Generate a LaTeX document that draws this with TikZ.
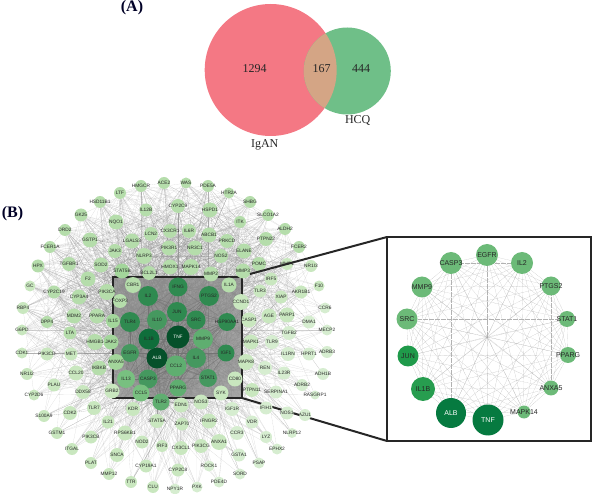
\documentclass[tikz,border=0pt]{standalone}
\usepackage{fontspec}
\setmainfont{Liberation Serif}
\newfontfamily\labsans{Liberation Sans}
\definecolor{vred}{HTML}{F47884}
\definecolor{vgreen}{HTML}{6FBF88}
\definecolor{vmix}{HTML}{D4A585}
\definecolor{h1}{HTML}{05502A}
\definecolor{h2}{HTML}{0F6E3B}
\definecolor{h3}{HTML}{2F8A50}
\definecolor{h4}{HTML}{45985F}
\definecolor{h5}{HTML}{5FAE70}
\definecolor{h6}{HTML}{78C080}
\definecolor{g0}{HTML}{A3D69B}
\definecolor{g1}{HTML}{B5DDAB}
\definecolor{g2}{HTML}{C9E7BF}
\definecolor{g3}{HTML}{D6EDD0}
\definecolor{rdark}{HTML}{067A40}
\definecolor{rmid}{HTML}{1F9A4A}
\definecolor{rlight}{HTML}{6CBA78}
\definecolor{boxfill}{HTML}{A6A6A6}
\definecolor{frame}{HTML}{262626}
\pgfdeclarelayer{bg}
\pgfsetlayers{bg,main}
\tikzset{
  netnode/.style={circle,inner sep=0pt,outer sep=0pt,text=black!85,font=\labsans\fontsize{4.8}{5}\selectfont},
  zoomnode/.style={circle,inner sep=0pt,outer sep=0pt,text=black!85,font=\labsans\fontsize{7}{8}\selectfont},
  netedge/.style={draw=black!45,line width=0.1pt,opacity=0.4},
  hubedge/.style={draw=black!55,line width=0.1pt,opacity=0.5},
  zoomedge/.style={draw=black!30,line width=0.12pt,dash pattern=on 0.8pt off 0.4pt},
  framed/.style={draw=frame,line width=2pt},
  vlabel/.style={font=\fontsize{12}{14}\selectfont,text=black!85,inner sep=0pt},
  panel/.style={font=\bfseries\fontsize{16}{18}\selectfont,text=black!85!blue,inner sep=0pt},
}
\newcount\nodecnt
\newcommand\netnode[6]{%
  \global\advance\nodecnt by 1
  \edef\thisn{n\the\nodecnt}%
  \expandafter\xdef\csname deg\the\nodecnt\endcsname{#6}%
  \node[netnode,fill=#5,minimum size={2*#4 pt}] (\thisn) at (#2,#3) {\makebox[0pt][c]{#1}};}
\newcommand\zoomn[6]{%
  \node[zoomnode,fill=#6,minimum size={2*#5 pt}] (#1) at (#3,#4) {\makebox[0pt][c]{#2}};}
\begin{document}
\begin{tikzpicture}[x=1pt,y=-1pt]
\useasboundingbox (0,0) rectangle (592,494);
% ---- Panel A
\node[panel] (pa) at (132,8) {(A)};
\fill[vred] (270.7,70) circle (66);
\fill[vgreen] (347.3,71) circle (43.5);
\begin{scope}
  \clip (270.7,70) circle (66);
  \fill[vmix] (347.3,71) circle (43.5);
\end{scope}
\node[vlabel] (va) at (254.7,69) {1294};
\node[vlabel] (vb) at (321.7,69) {167};
\node[vlabel] (vc) at (361,69) {444};
\node[vlabel] (vd) at (357.7,121) {HCQ};
\node[vlabel] (ve) at (264.7,145) {IgAN};
% ---- Panel B
\node[panel] (pb) at (12.5,214) {(B)};
\coordinate (boxNW) at (113,277);
\coordinate (boxNE) at (242,277);
\coordinate (boxSW) at (113,398);
\coordinate (boxSE) at (242,398);
\coordinate (bigNW) at (387,237);
\coordinate (bigSE) at (591,441);
\coordinate (bigSW) at (387,441);
\coordinate (upstart) at (250,274);
% hubs
\netnode{\color{white}TNF}{178}{337}{11.5}{h1}{1}
\netnode{\color{white}ALB}{157}{358}{10.5}{h1}{1}
\netnode{IL1B}{149}{339}{10.5}{h2}{1}
\netnode{IL2}{148}{296}{10}{h3}{1}
\netnode{IFNG}{178}{287}{9.5}{h3}{1}
\netnode{PTGS2}{209}{296}{10}{h3}{1}
\netnode{JUN}{177}{312}{10}{h3}{1}
\netnode{IL10}{157}{320}{10}{h4}{1}
\netnode{SRC}{196}{320}{9.5}{h3}{1}
\netnode{TLR4}{130}{322}{10}{h3}{1}
\netnode{HSP90AA1}{227}{322}{9}{h3}{1}
\netnode{MMP9}{203}{339}{10}{h5}{1}
\netnode{EGFR}{130}{353}{9}{h4}{1}
\netnode{IGF1}{226}{353}{8.5}{h3}{1}
\netnode{IL4}{196}{358}{10}{h4}{1}
\netnode{CCL2}{176}{366}{10.5}{h5}{1}
\netnode{IL13}{126}{379}{9}{h6}{1}
\netnode{CASP3}{148}{379}{9.5}{h4}{1}
\netnode{STAT1}{208}{378}{9}{h4}{1}
\netnode{PPARG}{178}{388}{8.5}{h5}{1}
\netnode{CCL5}{141}{393}{8.5}{h6}{1}
\netnode{TLR2}{161}{402}{8.5}{h5}{1}
% ring and rim, upper and left
\netnode{HMGCR}{141}{186}{6}{g1}{8}
\netnode{ACE2}{164}{183}{6}{g1}{8}
\netnode{WAS}{186}{183}{5.5}{g1}{8}
\netnode{LTF}{120}{193}{6}{g1}{8}
\netnode{HSD11B1}{100}{202}{6}{g1}{8}
\netnode{IL12B}{146}{210}{6.5}{g1}{10}
\netnode{CYP2C9}{178}{206}{7}{g1}{10}
\netnode{GK25}{81}{215}{6.5}{g1}{8}
\netnode{NQO1}{116}{222}{7.5}{g1}{10}
\netnode{DRD2}{65}{230}{6}{g1}{8}
\netnode{LCN2}{151}{234}{7}{g1}{12}
\netnode{CX3CR1}{170}{231}{7}{g1}{12}
\netnode{IL6R}{189}{231}{7}{g1}{12}
\netnode{GSTP1}{90}{240}{7.5}{g1}{10}
\netnode{LGALS3}{132}{241}{7.5}{g1}{12}
\netnode{FCER1A}{50}{247}{6}{g1}{8}
\netnode{JAK3}{115}{251}{7}{g1}{12}
\netnode{NLRP3}{144}{256}{8}{g1}{14}
\netnode{PIK3R1}{169}{248}{7.5}{g1}{14}
\netnode{NR3C1}{195}{248}{7.5}{g1}{14}
\netnode{HPX}{38}{266}{6.5}{g1}{8}
\netnode{TGFBR1}{69}{264}{7}{g1}{10}
\netnode{SOD2}{101}{265}{7.5}{g1}{12}
\netnode{HMOX1}{170}{267}{7.5}{g1}{14}
\netnode{MAPK14}{191}{267}{8}{g1}{14}
\netnode{STAT5B}{122}{271}{7.5}{g0}{14}
\netnode{BCL2L1}{149}{273}{7}{g1}{14}
\netnode{F2}{88}{279}{7.5}{g1}{10}
\netnode{GC}{30}{286}{5.5}{g2}{6}
\netnode{CYP3A4}{79}{297}{7.5}{g1}{10}
\netnode{CYP2C19}{54}{292}{6.5}{g1}{8}
\netnode{PIK3CA}{107}{292}{8}{g1}{12}
\netnode{CBR1}{133}{285}{8}{g1}{12}
\netnode{FOXP3}{120}{301}{7}{g1}{12}
\netnode{RBP4}{23}{308}{6}{g2}{6}
\netnode{MDM2}{74}{316}{7.5}{g1}{10}
\netnode{PPARA}{97}{316}{7.5}{g1}{12}
\netnode{IL15}{113}{321}{7}{g0}{12}
\netnode{DPP4}{47}{322}{6}{g1}{8}
\netnode{G6PD}{22}{330}{5.5}{g2}{6}
\netnode{LTA}{70}{333}{6.5}{g1}{10}
% upper right
\netnode{PDE5A}{208}{186}{6}{g1}{8}
\netnode{HTR2A}{229}{193}{5.5}{g1}{8}
\netnode{SHBG}{250}{202}{6}{g1}{6}
\netnode{HSPD1}{210}{210}{7.5}{g1}{10}
\netnode{ITK}{240}{222}{6}{g1}{8}
\netnode{SLCO1A2}{268}{215}{6}{g1}{6}
\netnode{ALDH2}{285}{229}{6}{g1}{6}
\netnode{ABCB1}{209}{235}{7.5}{g1}{12}
\netnode{PRKCD}{227}{241}{7}{g1}{12}
\netnode{PTPN22}{266}{239}{7}{g1}{8}
\netnode{FCER2}{299}{247}{6}{g1}{6}
\netnode{NOS2}{221}{256}{7}{g1}{12}
\netnode{ELANE}{244}{251}{7.5}{g1}{10}
\netnode{POMC}{259}{264}{7}{g1}{10}
\netnode{NR1I3}{311}{266}{6}{g2}{5}
\netnode{MMP1}{287}{264}{6}{g2}{7}
\netnode{MMP2}{211}{274}{7.5}{g1}{12}
\netnode{MMP3}{243}{271}{7.5}{g1}{12}
\netnode{IRF5}{271}{279}{6.5}{g2}{8}
\netnode{IL1A}{229}{285}{7.5}{g1}{12}
\netnode{TLR3}{260}{291}{6.5}{g2}{8}
\netnode{AKR1B1}{301}{292}{6.5}{g2}{6}
\netnode{F10}{319}{286}{5.5}{g2}{4}
\netnode{XIAP}{281}{297}{6.5}{g2}{7}
\netnode{CCND1}{241}{302}{8}{g2}{10}
\netnode{CCR6}{325}{308}{5.5}{g3}{4}
\netnode{AGE}{269}{316}{7.5}{g2}{7}
\netnode{PARP1}{287}{315}{7.5}{g2}{7}
\netnode{CASP1}{249}{320}{7.5}{g2}{9}
\netnode{DMA1}{309}{322}{6.5}{g3}{5}
\netnode{MECP2}{327}{330}{5.5}{g3}{4}
\netnode{TGFB2}{289}{333}{7}{g3}{6}
% lower left
\netnode{CDK1}{22}{353}{5.5}{g2}{6}
\netnode{PIK3CD}{47}{354}{6.5}{g2}{7}
\netnode{MET}{71}{354}{6.5}{g2}{8}
\netnode{HMGB1}{95}{342}{8}{g1}{10}
\netnode{JAK2}{111}{342}{7.5}{g0}{12}
\netnode{IKBKB}{99}{368}{7.5}{g1}{10}
\netnode{ANXA5}{116}{362}{8}{g0}{12}
\netnode{NR1I2}{27}{374}{6}{g2}{5}
\netnode{CCL20}{76}{373}{7.5}{g2}{9}
\netnode{PLAU}{54}{385}{6.5}{g2}{6}
\netnode{DDX58}{83}{392}{7}{g2}{9}
\netnode{GRB2}{112}{391}{7.5}{g2}{10}
\netnode{CYP2D6}{34}{395}{5.5}{g2}{5}
\netnode{S100A9}{44}{416}{6}{g2}{5}
\netnode{CDK2}{70}{413}{7}{g2}{7}
\netnode{TLR7}{94}{408}{7}{g2}{8}
\netnode{KDR}{133}{409}{7}{g2}{9}
\netnode{STAT5A}{157}{421}{7}{g2}{8}
\netnode{IL21}{108}{422}{6.5}{g2}{7}
\netnode{ZAP70}{182}{424}{6.5}{g2}{8}
\netnode{GSTM1}{57}{433}{6}{g2}{5}
\netnode{PIK3CB}{91}{437}{6.5}{g2}{6}
\netnode{RPS6KB1}{125}{433}{7.5}{g2}{7}
\netnode{NOD2}{142}{442}{6.5}{g2}{6}
\netnode{IRF3}{162}{446}{6}{g2}{6}
\netnode{CX3CL1}{181}{448}{7}{g2}{6}
\netnode{ITGAL}{72}{449}{6}{g2}{4}
\netnode{PLAT}{91}{463}{6}{g2}{4}
\netnode{SNCA}{117}{455}{7}{g2}{5}
\netnode{CYP19A1}{146}{466}{6.5}{g2}{5}
\netnode{CYP2C8}{178}{470}{6.5}{g2}{5}
\netnode{MMP12}{109}{474}{6}{g2}{4}
\netnode{TTR}{131}{482}{6}{g2}{4}
\netnode{CLU}{153}{487}{6}{g2}{4}
\netnode{NPY1R}{175}{489}{5.5}{g3}{4}
\netnode{PXK}{197}{487}{5.5}{g3}{4}
% lower right
\netnode{MAPK1}{251}{342}{7.5}{g2}{8}
\netnode{TLR9}{272}{342}{7}{g3}{6}
\netnode{IL1RN}{288}{354}{7}{g3}{5}
\netnode{HPRT1}{309}{354}{6.5}{g3}{5}
\netnode{ADRB3}{327}{352}{6}{g3}{3}
\netnode{MAPK8}{246}{362}{8}{g2}{8}
\netnode{REN}{265}{368}{7}{g3}{6}
\netnode{IL23R}{284}{373}{6.5}{g3}{5}
\netnode{ADH1B}{323}{374}{6}{g3}{3}
\netnode{ADRB2}{302}{385}{6}{g3}{4}
\netnode{CD80}{235}{379}{7.5}{g2}{8}
\netnode{RASGRP1}{315}{395}{4.5}{g3}{3}
\netnode{SERPINA1}{276}{392}{6.5}{g3}{5}
\netnode{PTPN11}{252}{390}{7}{g2}{7}
\netnode{SYK}{221}{393}{7.5}{g2}{8}
\netnode{NOS3}{201}{402}{7.5}{g2}{8}
\netnode{EDN1}{181}{405}{7.5}{g2}{8}
\netnode{IGF1R}{232}{409}{7}{g3}{7}
\netnode{IFIH1}{266}{408}{6.5}{g3}{5}
\netnode{NOS1}{287}{413}{6.5}{g3}{4}
\netnode{AZU1}{305}{415}{6}{g3}{4}
\netnode{IFNGR2}{209}{421}{7.5}{g2}{7}
\netnode{VDR}{252}{422}{6.5}{g3}{5}
\netnode{CCR3}{237}{433}{7}{g3}{5}
\netnode{NLRP12}{292}{433}{5}{g3}{3}
\netnode{LYZ}{266}{437}{6}{g3}{4}
\netnode{ANXA1}{219}{442}{8}{g2}{6}
\netnode{PIK3CG}{201}{446}{7}{g2}{5}
\netnode{EPHX2}{277}{449}{5.5}{g3}{3}
\netnode{GSTA1}{239}{455}{6.5}{g3}{4}
\netnode{PSAP}{259}{463}{5.5}{g3}{3}
\netnode{ROCK1}{209}{466}{5.5}{g3}{4}
\netnode{SORD}{240}{474}{5.5}{g3}{3}
\netnode{PDE4D}{219}{482}{5.5}{g3}{3}
\edef\NN{\the\nodecnt}
% edges
\begin{pgfonlayer}{bg}
  \fill[boxfill] (boxNW) rectangle (boxSE);
  \pgfmathsetseed{4242}
  \foreach \i in {23,...,\NN}{
    \edef\dd{\csname deg\i\endcsname}
    \foreach \e in {1,...,\dd}{
      \pgfmathrandominteger{\j}{1}{22}
      \draw[netedge] (n\i) -- (n\j);
      \pgfmathrandominteger{\j}{1}{85}
      \draw[netedge] (n\i) -- (n\j);
    }
  }
  \foreach \i in {1,...,22}{
    \foreach \e in {1,...,22}{
      \pgfmathrandominteger{\j}{1}{22}
      \draw[hubedge] (n\i) -- (n\j);
    }
  }
  \draw[framed] (boxNW) -- (boxNE) -- (boxSE) -- (boxSW) -- cycle;
  \draw[framed] (boxSE) -- (bigSW);
\end{pgfonlayer}
\draw[framed] (upstart) -- (bigNW);
% zoom frame and graph
\draw[framed] (bigNW) rectangle (bigSE);
\zoomn{z1}{EGFR}{487}{255}{11}{rlight}
\zoomn{z2}{IL2}{522}{263}{11}{rlight}
\zoomn{z3}{PTGS2}{551}{286}{9.5}{rlight}
\zoomn{z4}{STAT1}{567}{319}{8}{rlight}
\zoomn{z5}{PPARG}{568}{355}{8}{rlight}
\zoomn{z6}{ANXA5}{551}{388}{7.5}{rlight}
\zoomn{z7}{MAPK14}{524}{412}{6.5}{rlight}
\zoomn{z8}{\color{white}TNF}{488}{420}{15.5}{rdark}
\zoomn{z9}{\color{white}ALB}{451}{413}{15}{rdark}
\zoomn{z10}{IL1B}{423}{389}{12}{rmid!90!rlight}
\zoomn{z11}{JUN}{408}{356}{10.5}{rmid}
\zoomn{z12}{SRC}{407}{319}{10.5}{rlight}
\zoomn{z13}{MMP9}{422}{287}{10.5}{rlight}
\zoomn{z14}{CASP3}{451}{263}{11}{rlight}
\node[circle,fill=black!45,minimum size=1.5pt,inner sep=0pt] (z0) at (487,337) {};
\begin{pgfonlayer}{bg}
  \foreach \a in {1,...,13}{
    \pgfmathtruncatemacro{\s}{\a+1}
    \foreach \b in {\s,...,14}{
      \draw[zoomedge] (z\a) -- (z\b);
    }
  }
  \foreach \a in {1,...,14}{
    \draw[zoomedge] (z0) -- (z\a);
  }
\end{pgfonlayer}
\end{tikzpicture}
\end{document}
